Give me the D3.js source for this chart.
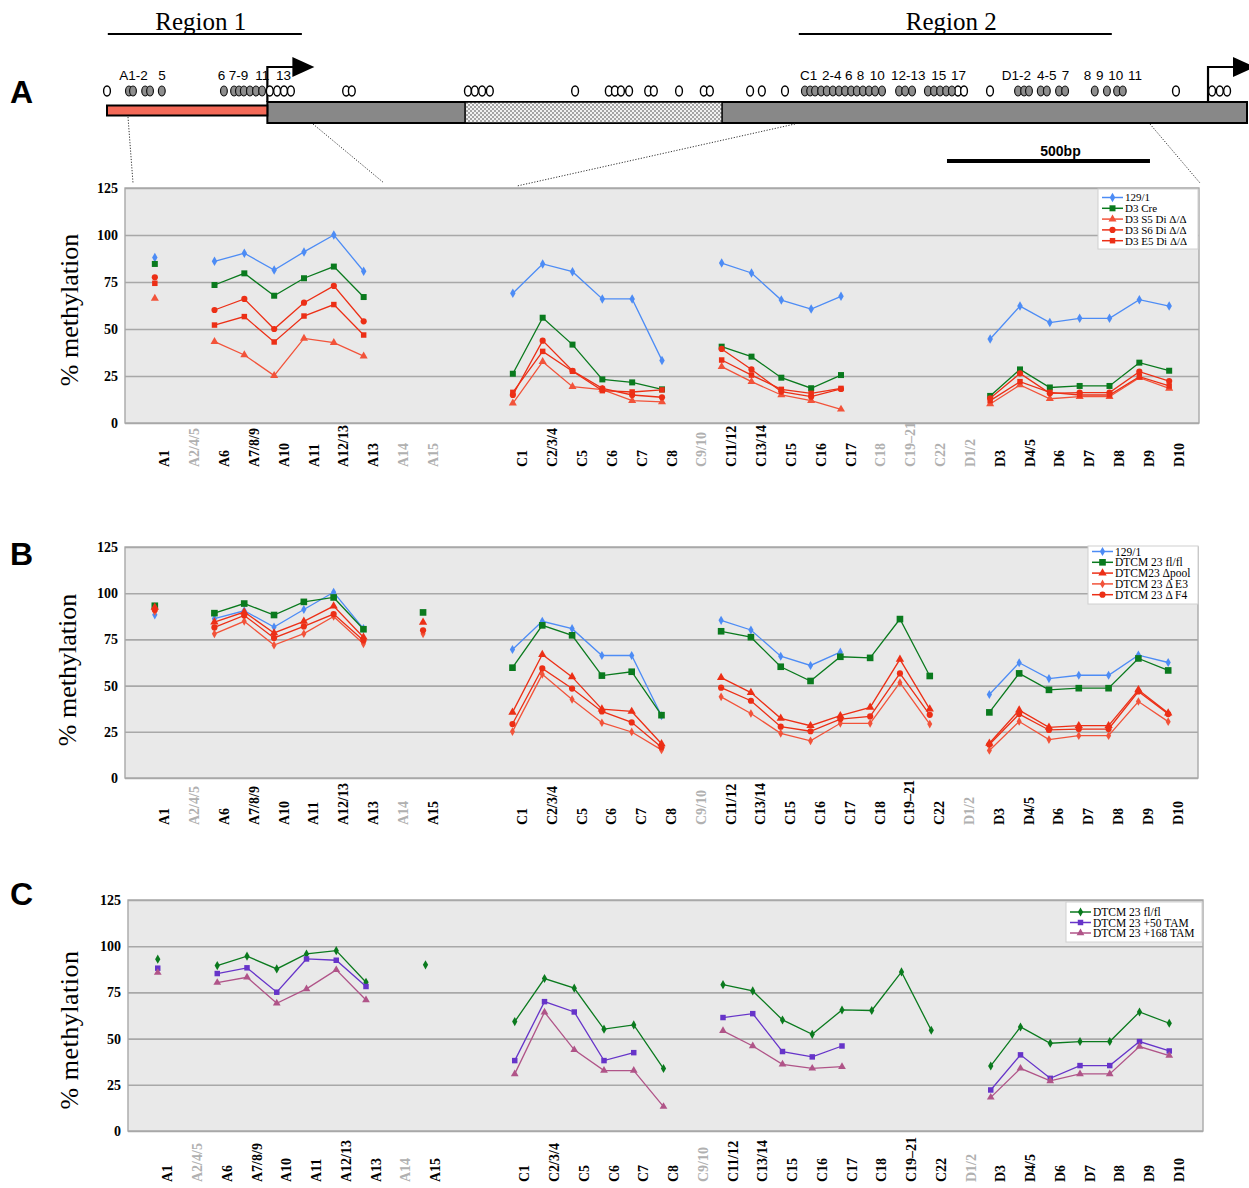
<!DOCTYPE html>
<html>
<head>
<meta charset="utf-8">
<script src="https://cdn.jsdelivr.net/npm/d3@7"></script>
<style>
  body { margin: 0; background: #fff; }
  svg { display: block; }
</style>
</head>
<body>
<svg id="fig" width="1249" height="1188"></svg>
<script>
// ---- categories shared by the three panels (two empty slots between A15 and C1)
const categories = ["A1", "A2/4/5", "A6", "A7/8/9", "A10", "A11", "A12/13", "A13", "A14", "A15", "", "",
  "C1", "C2/3/4", "C5", "C6", "C7", "C8", "C9/10", "C11/12", "C13/14", "C15", "C16", "C17", "C18", "C19–21", "C22",
  "D1/2", "D3", "D4/5", "D6", "D7", "D8", "D9", "D10"];
const yTicks = [0, 25, 50, 75, 100, 125];

// ---- panel A values (% methylation), null = not measured
const a129 = [88, null, 86, 90.3, 81.4, 91, 100, 80.7, null, null, null, null,
  69, 84.6, 80.5, 66, 66, 33.3, null, 85.1, 79.8, 65.4, 60.6, 67.4, null, null, null,
  null, 44.7, 62.2, 53.4, 55.7, 55.7, 65.6, 62.2];
const aCre = [84.6, null, 73.4, 79.6, 67.7, 77, 83.2, 67, null, null, null, null,
  26.2, 56, 41.7, 23.2, 21.6, 17.9, null, 40.6, 35.3, 24.1, 18.5, 25.5, null, null, null,
  null, 14.4, 28.5, 18.9, 19.7, 19.7, 32.1, 27.8];
const aS5 = [66.3, null, 43.3, 36.2, 25.2, 45, 42.7, 35.6, null, null, null, null,
  10.5, 32.6, 19.3, 17.8, 11.9, 11.2, null, 30, 22, 14.9, 11.9, 7.3, null, null, null,
  null, 10.1, 20.2, 12.9, 14, 14, 24.1, 18.4];
const aS6 = [77.5, null, 60.1, 66, 50, 64, 72.9, 54.1, null, null, null, null,
  14.9, 43.8, 27.8, 18.4, 14.9, 13.7, null, 39.4, 28.5, 16.7, 14, 18.1, null, null, null,
  null, 13.1, 26.4, 15.8, 16.2, 16.2, 27.3, 22.3];
const aE5 = [74.3, null, 52.1, 56.6, 43.1, 56.9, 63, 46.8, null, null, null, null,
  16.3, 38.1, 27.5, 17.2, 16.5, 17.6, null, 33.5, 25.5, 17.9, 15.8, 18.4, null, null, null,
  null, 11.9, 22, 16.3, 14.9, 14.9, 24.6, 19.7];

// ---- panel B values
const b129 = [88.3, null, 86.2, 90.5, 81.7, 91.2, 100.5, 80.8, null, null, null, null,
  69.5, 84.8, 80.8, 66.3, 66.3, 33.7, null, 85.3, 80.1, 65.9, 60.9, 68.1, null, null, null,
  null, 45.2, 62.4, 53.8, 55.6, 55.6, 66.5, 62.5];
const bFlfl = [93.2, null, 89.2, 94.4, 88.2, 95.3, 97.7, 80.5, null, 89.6, null, null,
  59.7, 82.6, 77.2, 55.4, 57.5, 34, null, 79.4, 76.2, 60.2, 52.5, 65.6, 65, 86, 55.2,
  null, 35.5, 56.6, 47.7, 48.6, 48.6, 64.7, 58.2];
const bPool = [92.3, null, 84.4, 89.8, 78.5, 84.8, 93, 76.2, null, 84.2, null, null,
  35.5, 66.8, 54.7, 37.3, 36, 18.5, null, 54.3, 46.2, 32.3, 28.3, 33.7, 38.2, 64.2, 37.3,
  null, 18.8, 36.7, 27.4, 28.3, 28.3, 47.7, 35.1];
const bE3 = [90.1, null, 78, 84.8, 71.9, 78.1, 87.4, 72.6, null, 78, null, null,
  25.1, 56.1, 42.5, 29.9, 24.9, 15.2, null, 43.9, 34.9, 24.2, 20.1, 29.6, 29.6, 51.6, 29.2,
  null, 14.9, 30.6, 20.8, 22.9, 22.9, 41.4, 30.5];
const bF4 = [91, null, 81.5, 88, 75.8, 82, 88.7, 74.4, null, 79.9, null, null,
  29.2, 59.3, 48.4, 36, 30.1, 16.7, null, 48.9, 41.8, 27.8, 25.3, 31.9, 33.3, 56.6, 34.2,
  null, 18.1, 34.6, 26, 26.5, 26.5, 46.8, 34.6];

// ---- panel C values
const cFlfl = [93, null, 89.5, 94.6, 87.7, 95.8, 97.6, 80.5, null, 89.9, null, null,
  59.2, 82.5, 77.3, 55.1, 57.4, 33.8, null, 79.2, 75.8, 60.1, 52.3, 65.5, 65.2, 86.1, 54.5,
  null, 35.2, 56.3, 47.5, 48.4, 48.4, 64.4, 58.3];
const cTam50 = [88.1, null, 85.2, 88.3, 75.1, 93.1, 92.4, 78.2, null, null, null, null,
  38.1, 70, 64.4, 38.1, 42.4, null, null, 61.4, 63.5, 43, 40.1, 46, null, null, null,
  null, 22.2, 41.2, 28.5, 35.4, 35.4, 48.4, 43.3];
const cTam168 = [85.7, null, 80.3, 83.2, 69.1, 76.9, 87.2, 70.9, null, null, null, null,
  30.9, 64.3, 43.9, 32.7, 32.7, 13.2, null, 54.2, 46, 36.1, 33.9, 34.8, null, null, null,
  null, 18.2, 33.9, 27.1, 30.9, 30.9, 45.7, 40.8];

// ---- gene map (positions in bp)
const cpgOpen = [0, 401, 419, 436, 453, 589, 603, 889, 906, 924, 943, 1153, 1236, 1251, 1266, 1286,
  1333, 1347, 1409, 1470, 1485, 1584, 1613, 1670, 2096, 2111, 2175, 2633, 2722, 2741, 2759];
const cpgFilled = [54, 64, 94, 106, 135, 288, 313, 325, 337, 352, 367, 382,
  1719, 1732, 1744, 1759, 1773, 1788, 1803, 1818, 1833, 1847, 1862, 1877, 1892, 1909,
  1951, 1966, 1983, 2022, 2037, 2052, 2067, 2081, 2244, 2259, 2271, 2300, 2315, 2345, 2360,
  2433, 2463, 2488, 2502];
const siteLabels = [["A1-2", 30], ["5", 126], ["6", 273], ["7-9", 300], ["11", 365], ["13", 416],
  ["C1", 1707], ["2-4", 1761], ["6", 1818], ["8", 1847], ["10", 1879], ["12-13", 1931], ["15", 2030], ["17", 2079],
  ["D1-2", 2204], ["4-5", 2291], ["7", 2352], ["8", 2406], ["9", 2436], ["10", 2466], ["11", 2515]];
const regions = [["Region 1", 2, 480], ["Region 2", 1704, 2475]];
const geneLength = 2808;
const promoter = [0, 395];
const repeatBlock = [882, 1515];
const tssSites = [395, 2712];
const scaleBar = [2069, 2569];

const serif = "'Liberation Serif', 'Times New Roman', serif";
const sans = "'Liberation Sans', Arial, sans-serif";
const blue = "#4d8cf5", green = "#0a7a1e", red = "#ec2f16", red2 = "#f2533a",
  purple = "#6634c9", mauve = "#b05488";

const svg = d3.select("#fig");

// ---------------- top gene map ----------------
const mapX = d3.scaleLinear().domain([0, geneLength]).range([107, 1247]);
const defs = svg.append("defs");
const pat = defs.append("pattern").attr("id", "stip").attr("width", 4).attr("height", 4)
  .attr("patternUnits", "userSpaceOnUse");
pat.append("rect").attr("width", 4).attr("height", 4).attr("fill", "#f2f2f2");
pat.append("rect").attr("width", 2).attr("height", 2).attr("fill", "#a4a4a4");
pat.append("rect").attr("x", 2).attr("y", 2).attr("width", 2).attr("height", 2).attr("fill", "#a4a4a4");

const map = svg.append("g");
regions.forEach(([name, s, e]) => {
  map.append("line").attr("x1", mapX(s)).attr("x2", mapX(e)).attr("y1", 34).attr("y2", 34)
    .attr("stroke", "#000").attr("stroke-width", 2);
  map.append("text").attr("x", (mapX(s) + mapX(e)) / 2 - 4).attr("y", 30)
    .attr("text-anchor", "middle").attr("font-family", serif).attr("font-size", 25).text(name);
});

map.append("rect").attr("x", mapX(promoter[1])).attr("y", 102).attr("width", mapX(geneLength) - mapX(promoter[1]))
  .attr("height", 21).attr("fill", "#888").attr("stroke", "#000").attr("stroke-width", 2);
map.append("rect").attr("x", mapX(repeatBlock[0])).attr("y", 102).attr("width", mapX(repeatBlock[1]) - mapX(repeatBlock[0]))
  .attr("height", 21).attr("fill", "url(#stip)").attr("stroke", "#000").attr("stroke-width", 1.5);
map.append("rect").attr("x", mapX(promoter[0])).attr("y", 105.5).attr("width", mapX(promoter[1]) - mapX(promoter[0]))
  .attr("height", 10).attr("fill", "#f46a58").attr("stroke", "#000").attr("stroke-width", 2);

tssSites.forEach(bp => {
  const x0 = mapX(bp);
  map.append("path").attr("d", `M${x0},102V67H${x0 + 27}`).attr("fill", "none")
    .attr("stroke", "#000").attr("stroke-width", 2.2);
  map.append("path").attr("d", `M${x0 + 25},57L${x0 + 47},67L${x0 + 25},77Z`).attr("fill", "#000");
});

map.selectAll(".open").data(cpgOpen).join("ellipse").attr("class", "open")
  .attr("cx", d => mapX(d)).attr("cy", 91).attr("rx", 3.4).attr("ry", 5)
  .attr("fill", "#fff").attr("stroke", "#000").attr("stroke-width", 1.4);
map.selectAll(".filled").data(cpgFilled).join("ellipse").attr("class", "filled")
  .attr("cx", d => mapX(d)).attr("cy", 91).attr("rx", 3.4).attr("ry", 5)
  .attr("fill", "#8e8e8e").attr("stroke", "#111").attr("stroke-width", 1.2);
map.selectAll(".slabel").data(siteLabels).join("text").attr("class", "slabel")
  .attr("x", d => mapX(d[1])).attr("y", 80).attr("font-family", sans).attr("font-size", 13.5)
  .text(d => d[0]);

// scale bar
map.append("rect").attr("x", mapX(scaleBar[0])).attr("y", 159).attr("width", mapX(scaleBar[1]) - mapX(scaleBar[0]))
  .attr("height", 4).attr("fill", "#000");
map.append("text").attr("x", (mapX(scaleBar[0]) + mapX(scaleBar[1])) / 2 + 12).attr("y", 156)
  .attr("text-anchor", "middle").attr("font-family", sans).attr("font-weight", "bold").attr("font-size", 14).text("500bp");

// dotted zoom lines
[[128, 117, 133, 183], [313, 124, 384, 183], [795, 124, 517, 186], [1150, 124, 1200, 183]].forEach(l => {
  map.append("line").attr("x1", l[0]).attr("y1", l[1]).attr("x2", l[2]).attr("y2", l[3])
    .attr("stroke", "#333").attr("stroke-width", 1).attr("stroke-dasharray", "1.2,1.6");
});

// panel letters
[["A", 103], ["B", 565], ["C", 905]].forEach(([t, yy]) => {
  svg.append("text").attr("x", 10).attr("y", yy).attr("font-family", sans).attr("font-weight", "bold")
    .attr("font-size", 32).text(t);
});

// ---------------- methylation panels ----------------
const symbols = { diamond: d3.symbolDiamond, square: d3.symbolSquare, triangle: d3.symbolTriangle, circle: d3.symbolCircle };

function drawPanel(p) {
  const g = svg.append("g");
  const frameRight = p.frameRight || p.right;
  const w = frameRight - p.left;
  const x = d3.scalePoint().domain(d3.range(categories.length)).range([p.left, p.right]).padding(1);
  const y = d3.scaleLinear().domain([0, 125]).range([p.bottom, p.top]);

  g.append("rect").attr("x", p.left).attr("y", p.top).attr("width", w).attr("height", p.bottom - p.top)
    .attr("fill", "#e9e9e9");

  // gridlines
  g.append("g").attr("transform", `translate(${p.left},0)`)
    .call(d3.axisLeft(y).tickValues(yTicks).tickSize(-w).tickFormat(""))
    .call(a => a.select(".domain").remove())
    .selectAll("line").attr("stroke", "#a8a8a8").attr("stroke-width", 1.6);

  g.append("rect").attr("x", p.left).attr("y", p.top).attr("width", w).attr("height", p.bottom - p.top)
    .attr("fill", "none").attr("stroke", "#a8a8a8").attr("stroke-width", 1.4);

  // y tick labels
  const ya = g.append("g").attr("transform", `translate(${p.left},0)`)
    .call(d3.axisLeft(y).tickValues(yTicks).tickSize(0).tickPadding(7));
  ya.select(".domain").remove();
  ya.selectAll("text").attr("font-family", serif).attr("font-weight", "bold").attr("font-size", 14).attr("fill", "#000");

  // x category labels, grey where no series has data
  const hasData = i => p.series.some(s => s.values[i] != null);
  const xa = g.append("g").attr("transform", `translate(0,${p.bottom})`)
    .call(d3.axisBottom(x).tickSize(0).tickFormat(i => categories[i]));
  xa.select(".domain").remove();
  xa.selectAll("text").attr("transform", "rotate(-90)").attr("x", -p.labelDrop).attr("y", 14).attr("dy", null)
    .attr("text-anchor", "start").attr("font-family", serif).attr("font-weight", "bold").attr("font-size", 14)
    .attr("fill", i => hasData(i) ? "#000" : "#b0b0b0");

  // y title
  g.append("text").attr("transform", `translate(${p.titleX},${p.titleY}) rotate(-90)`)
    .attr("text-anchor", "middle").attr("font-family", serif).attr("font-size", 26)
    .attr("letter-spacing", p.titleSpacing || 0).text("% methylation");

  // series
  const line = d3.line().defined(v => v != null).x((v, i) => x(i)).y(v => y(v));
  p.series.forEach(s => {
    g.append("path").attr("d", line(s.values)).attr("fill", "none").attr("stroke", s.color)
      .attr("stroke-width", 1.3);
    const pts = s.values.map((v, i) => [i, v]).filter(d => d[1] != null);
    g.selectAll(null).data(pts).join("path")
      .attr("transform", d => `translate(${x(d[0])},${y(d[1])})`)
      .attr("d", d3.symbol(symbols[s.shape], s.size)())
      .attr("fill", s.color);
  });

  // legend
  const L = p.legend;
  const lg = g.append("g");
  lg.append("rect").attr("x", L.x).attr("y", L.y).attr("width", L.w).attr("height", L.h)
    .attr("fill", "#fff").attr("stroke", "#d0d0d0").attr("stroke-width", 1);
  p.series.forEach((s, i) => {
    const ry = L.y + L.first + i * L.step;
    lg.append("line").attr("x1", L.x + 4).attr("x2", L.x + 4 + L.line).attr("y1", ry).attr("y2", ry)
      .attr("stroke", s.color).attr("stroke-width", 1.5);
    lg.append("path").attr("transform", `translate(${L.x + 4 + L.line / 2},${ry})`)
      .attr("d", d3.symbol(symbols[s.shape], s.size)()).attr("fill", s.color);
    lg.append("text").attr("x", L.x + 6 + L.line).attr("y", ry).attr("dy", "0.35em")
      .attr("font-family", serif).attr("font-size", L.font).text(s.name);
  });
}

drawPanel({
  left: 125, right: 1199, top: 188, bottom: 423, labelDrop: 44, titleX: 78, titleY: 310,
  series: [
    { name: "129/1", values: a129, color: blue, shape: "diamond", size: 26 },
    { name: "D3 Cre", values: aCre, color: green, shape: "square", size: 36 },
    { name: "D3 S5 Di Δ/Δ", values: aS5, color: red2, shape: "triangle", size: 28 },
    { name: "D3 S6 Di Δ/Δ", values: aS6, color: red, shape: "circle", size: 30 },
    { name: "D3 E5 Di Δ/Δ", values: aE5, color: red, shape: "square", size: 30 }
  ],
  legend: { x: 1098, y: 189, w: 100, h: 60, first: 8.5, step: 10.8, line: 21, font: 11 }
});

drawPanel({
  left: 125, right: 1198, top: 547, bottom: 778, labelDrop: 47, titleX: 76, titleY: 670,
  series: [
    { name: "129/1", values: b129, color: blue, shape: "diamond", size: 24 },
    { name: "DTCM 23 fl/fl", values: bFlfl, color: green, shape: "square", size: 44 },
    { name: "DTCM23 Δpool", values: bPool, color: red, shape: "triangle", size: 30 },
    { name: "DTCM 23 Δ E3", values: bE3, color: red2, shape: "diamond", size: 22 },
    { name: "DTCM 23 Δ F4", values: bF4, color: red, shape: "circle", size: 30 }
  ],
  legend: { x: 1088, y: 546, w: 110, h: 58, first: 5.5, step: 10.8, line: 21, font: 11.5 }
});

drawPanel({
  left: 128, right: 1199, frameRight: 1203, top: 900, bottom: 1131, labelDrop: 51, titleX: 78, titleY: 1030,
  titleSpacing: 0.5,
  series: [
    { name: "DTCM 23 fl/fl", values: cFlfl, color: green, shape: "diamond", size: 24 },
    { name: "DTCM 23 +50 TAM", values: cTam50, color: purple, shape: "square", size: 30 },
    { name: "DTCM 23 +168 TAM", values: cTam168, color: mauve, shape: "triangle", size: 26 }
  ],
  legend: { x: 1066, y: 902, w: 136, h: 40, first: 10, step: 10.5, line: 21, font: 11.5 }
});
</script>
</body>
</html>
